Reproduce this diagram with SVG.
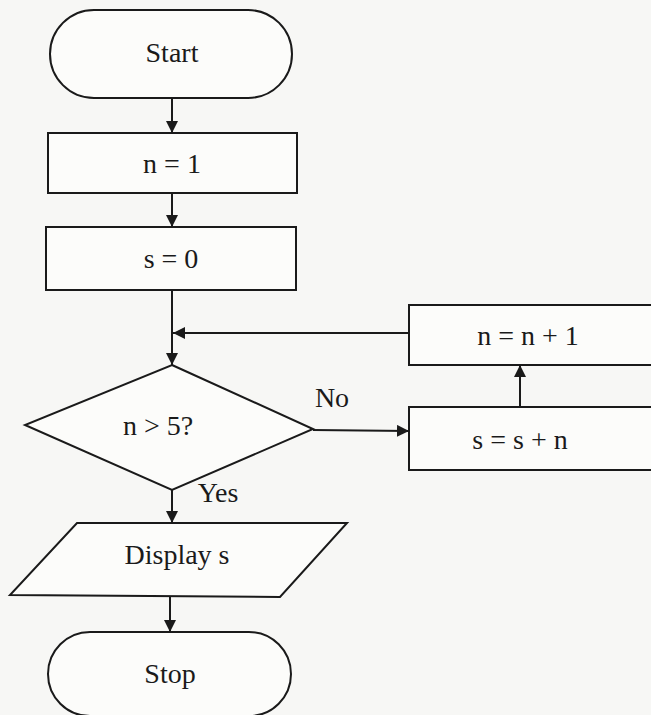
<svg xmlns="http://www.w3.org/2000/svg" width="651" height="715" viewBox="0 0 651 715">
<defs>
<marker id="ah" viewBox="0 0 10 10" refX="10" refY="5" markerWidth="12" markerHeight="12" markerUnits="userSpaceOnUse" orient="auto">
<path d="M0,0 L10,5 L0,10 z" fill="#1a1a1a"/>
</marker>
</defs>
<style>
.s{fill:#fcfcfa;stroke:#1a1a1a;stroke-width:2}
.t{font-family:"Liberation Serif",serif;font-size:28px;fill:#1a1a1a;text-anchor:middle;dominant-baseline:central}
.c{fill:none;stroke:#1a1a1a;stroke-width:2}
</style>
<rect width="651" height="715" fill="#f7f7f5"/>
<g id="start"><rect class="s" x="50" y="10" width="242" height="88" rx="44"/><text class="t" x="172" y="52">Start</text></g>
<g id="n1"><rect class="s" x="48" y="133" width="249" height="60"/><text class="t" x="172" y="163">n = 1</text></g>
<g id="s0"><rect class="s" x="46" y="227" width="250" height="63"/><text class="t" x="171" y="258">s = 0</text></g>
<g id="dec"><polygon class="s" points="172,365 313,429 172,490 25,425"/><text class="t" x="158" y="425">n &gt; 5?</text></g>
<g id="ssn"><rect class="s" x="409" y="407" width="250" height="63"/><text class="t" x="520" y="439">s = s + n</text></g>
<g id="nn1"><rect class="s" x="409" y="305" width="250" height="60"/><text class="t" x="528" y="335">n = n + 1</text></g>
<g id="disp"><polygon class="s" points="77,523 347,523 280,597 10,595"/><text class="t" x="177" y="554">Display s</text></g>
<g id="stop"><rect class="s" x="48" y="632" width="243" height="84" rx="42"/><text class="t" x="170" y="673">Stop</text></g>
<g id="connectors">
<line class="c" x1="172" y1="98" x2="172" y2="133" marker-end="url(#ah)"/>
<line class="c" x1="172" y1="193" x2="172" y2="227" marker-end="url(#ah)"/>
<line class="c" x1="172" y1="290" x2="172" y2="365" marker-end="url(#ah)"/>
<line class="c" x1="409" y1="333" x2="173" y2="333" marker-end="url(#ah)"/>
<line class="c" x1="313" y1="430" x2="409" y2="431" marker-end="url(#ah)"/>
<line class="c" x1="520" y1="407" x2="520" y2="365" marker-end="url(#ah)"/>
<line class="c" x1="172" y1="490" x2="172" y2="523" marker-end="url(#ah)"/>
<line class="c" x1="170" y1="597" x2="170" y2="632" marker-end="url(#ah)"/>
<text class="t" x="332" y="397">No</text>
<text class="t" x="218" y="492">Yes</text>
</g>
</svg>
